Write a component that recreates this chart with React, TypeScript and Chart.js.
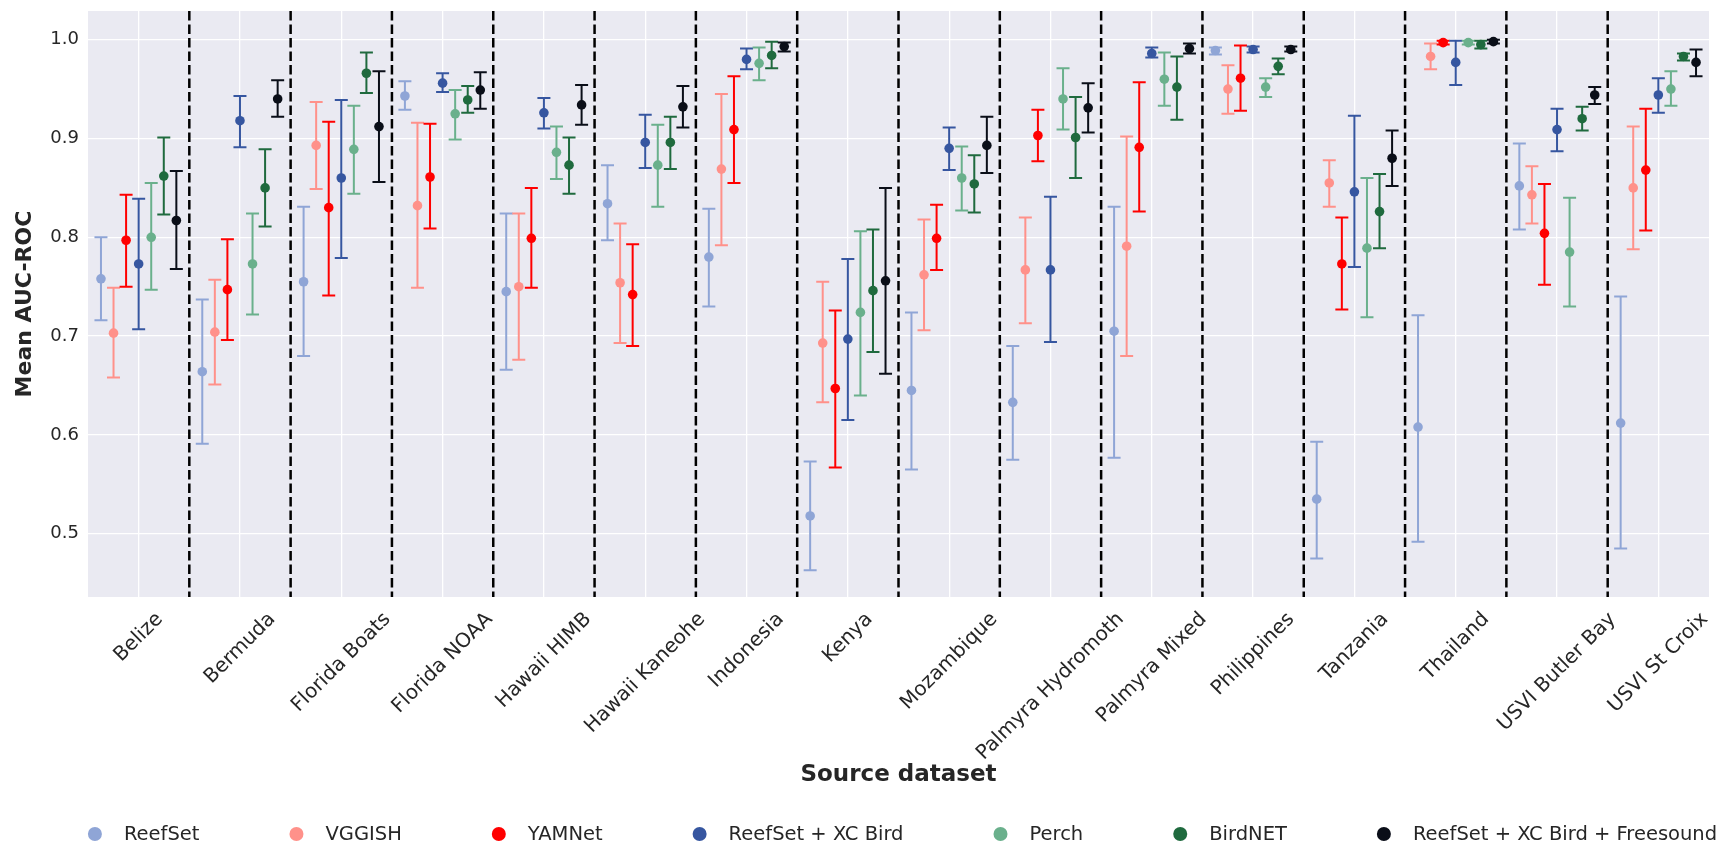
import React, { useEffect, useRef } from "react";
import { Chart, registerables } from "chart.js";

Chart.register(...registerables);

const categories = [
  "Belize", "Bermuda", "Florida Boats", "Florida NOAA", "Hawaii HIMB", "Hawaii Kaneohe",
  "Indonesia", "Kenya", "Mozambique", "Palmyra Hydromoth", "Palmyra Mixed", "Philippines",
  "Tanzania", "Thailand", "USVI Butler Bay", "USVI St Croix",
];

const modelNames = [
  "ReefSet", "VGGISH", "YAMNet", "ReefSet + XC Bird", "Perch", "BirdNET",
  "ReefSet + XC Bird + Freesound",
];

const modelColors = ["#8FA5D6", "#FF918A", "#FF0000", "#3656A0", "#6AB08C", "#1F6A3E", "#0A0E18"];

const yTickValues = [0.5, 0.6, 0.7, 0.8, 0.9, 1.0];

// ReefSet
const reefsetMean = [0.758, 0.664, 0.755, 0.943, 0.745, 0.834, 0.780, 0.518, 0.645, 0.633, 0.705, 0.989, 0.535, 0.608, 0.852, 0.612];
const reefsetLo   = [0.716, 0.591, 0.680, 0.929, 0.666, 0.797, 0.730, 0.463, 0.565, 0.575, 0.577, 0.985, 0.475, 0.492, 0.808, 0.485];
const reefsetHi   = [0.800, 0.737, 0.831, 0.958, 0.824, 0.873, 0.829, 0.573, 0.724, 0.690, 0.831, 0.992, 0.593, 0.721, 0.895, 0.740];

// VGGISH
const vggishMean = [0.703, 0.704, 0.893, 0.832, 0.750, 0.754, 0.869, 0.693, 0.762, 0.767, 0.791, 0.950, 0.855, 0.983, 0.843, 0.850];
const vggishLo   = [0.658, 0.651, 0.849, 0.749, 0.676, 0.693, 0.792, 0.633, 0.706, 0.713, 0.680, 0.925, 0.831, 0.970, 0.814, 0.788];
const vggishHi   = [0.749, 0.757, 0.937, 0.916, 0.824, 0.814, 0.945, 0.755, 0.818, 0.820, 0.902, 0.974, 0.878, 0.996, 0.872, 0.912];

// YAMNet
const yamnetMean = [0.797, 0.747, 0.830, 0.861, 0.799, 0.742, 0.909, 0.647, 0.799, 0.903, 0.891, 0.961, 0.773, 0.997, 0.804, 0.868];
const yamnetLo   = [0.750, 0.696, 0.741, 0.809, 0.749, 0.690, 0.855, 0.567, 0.767, 0.877, 0.826, 0.928, 0.727, 0.995, 0.752, 0.807];
const yamnetHi   = [0.843, 0.798, 0.917, 0.915, 0.850, 0.793, 0.963, 0.726, 0.833, 0.929, 0.957, 0.994, 0.820, 0.999, 0.854, 0.930];

// ReefSet + XC Bird
const xcBirdMean = [0.773, 0.918, 0.860, 0.956, 0.926, 0.896, 0.980, 0.697, 0.890, 0.767, 0.986, 0.990, 0.846, 0.977, 0.909, 0.944];
const xcBirdLo   = [0.707, 0.891, 0.779, 0.947, 0.910, 0.870, 0.970, 0.615, 0.868, 0.694, 0.982, 0.987, 0.770, 0.954, 0.887, 0.926];
const xcBirdHi   = [0.839, 0.943, 0.939, 0.966, 0.941, 0.924, 0.991, 0.778, 0.911, 0.841, 0.992, 0.993, 0.923, 0.999, 0.930, 0.961];

// Perch
const perchMean = [0.800, 0.773, 0.889, 0.925, 0.886, 0.873, 0.976, 0.724, 0.860, 0.940, 0.960, 0.952, 0.789, 0.997, 0.785, 0.950];
const perchLo   = [0.747, 0.722, 0.844, 0.899, 0.859, 0.831, 0.959, 0.640, 0.827, 0.909, 0.933, 0.942, 0.719, 0.995, 0.730, 0.933];
const perchHi   = [0.855, 0.824, 0.933, 0.949, 0.912, 0.914, 0.992, 0.806, 0.892, 0.971, 0.987, 0.961, 0.860, 0.999, 0.840, 0.968];

// BirdNET
const birdnetMean = [0.862, 0.850, 0.966, 0.939, 0.873, 0.896, 0.984, 0.746, 0.854, 0.901, 0.952, 0.973, 0.826, 0.995, 0.920, 0.983];
const birdnetLo   = [0.823, 0.811, 0.946, 0.926, 0.844, 0.869, 0.971, 0.684, 0.825, 0.860, 0.919, 0.965, 0.789, 0.991, 0.908, 0.979];
const birdnetHi   = [0.901, 0.889, 0.987, 0.953, 0.901, 0.922, 0.998, 0.808, 0.883, 0.942, 0.983, 0.981, 0.864, 0.999, 0.932, 0.986];

// ReefSet + XC Bird + Freesound
const freesoundMean = [0.817, 0.940, 0.912, 0.949, 0.934, 0.932, 0.993, 0.756, 0.893, 0.931, 0.991, 0.990, 0.880, 0.998, 0.944, 0.977];
const freesoundLo   = [0.768, 0.922, 0.856, 0.930, 0.914, 0.911, 0.988, 0.662, 0.865, 0.906, 0.986, 0.988, 0.852, 0.996, 0.935, 0.963];
const freesoundHi   = [0.867, 0.959, 0.968, 0.967, 0.954, 0.953, 0.997, 0.850, 0.922, 0.956, 0.996, 0.993, 0.908, 1.000, 0.952, 0.990];

const seriesMeans = [reefsetMean, vggishMean, yamnetMean, xcBirdMean, perchMean, birdnetMean, freesoundMean];
const seriesLo = [reefsetLo, vggishLo, yamnetLo, xcBirdLo, perchLo, birdnetLo, freesoundLo];
const seriesHi = [reefsetHi, vggishHi, yamnetHi, xcBirdHi, perchHi, birdnetHi, freesoundHi];

const FONT = '"DejaVu Sans", "Liberation Sans", sans-serif';
const TEXT_COLOR = "#262626";
const OFFSET_STEP = 0.124;

const backgroundPlugin = {
  id: "plotBackground",
  beforeDraw(chart: any) {
    const { ctx, chartArea } = chart;
    ctx.save();
    ctx.fillStyle = "#EAEAF2";
    ctx.fillRect(chartArea.left, chartArea.top, chartArea.right - chartArea.left, chartArea.bottom - chartArea.top);
    ctx.restore();
  },
};

const separatorPlugin = {
  id: "groupSeparators",
  beforeDatasetsDraw(chart: any) {
    const { ctx, chartArea, scales } = chart;
    ctx.save();
    ctx.strokeStyle = "#000000";
    ctx.lineWidth = 2.5;
    ctx.setLineDash([9.5, 4]);
    for (let i = 0; i < categories.length - 1; i++) {
      const x = scales.x.getPixelForValue(i + 0.5);
      ctx.beginPath();
      ctx.moveTo(x, chartArea.top);
      ctx.lineTo(x, chartArea.bottom);
      ctx.stroke();
    }
    ctx.restore();
  },
};

const errorBarPlugin = {
  id: "errorBars",
  beforeDatasetDraw(chart: any, args: any) {
    const { ctx, chartArea, scales } = chart;
    const ds = chart.data.datasets[args.index];
    const meta = args.meta;
    const cap = 6.5;
    ctx.save();
    ctx.beginPath();
    ctx.rect(chartArea.left, chartArea.top, chartArea.right - chartArea.left, chartArea.bottom - chartArea.top);
    ctx.clip();
    ctx.strokeStyle = ds.pointBackgroundColor;
    ctx.lineWidth = 2;
    meta.data.forEach((pt: any, i: number) => {
      const d = ds.data[i];
      const x = pt.x;
      const yl = scales.y.getPixelForValue(d.lo);
      const yh = scales.y.getPixelForValue(d.hi);
      ctx.beginPath();
      ctx.moveTo(x, yl);
      ctx.lineTo(x, yh);
      ctx.moveTo(x - cap, yl);
      ctx.lineTo(x + cap, yl);
      ctx.moveTo(x - cap, yh);
      ctx.lineTo(x + cap, yh);
      ctx.stroke();
    });
    ctx.restore();
  },
};

const xLabelPlugin = {
  id: "xRotatedLabels",
  afterDraw(chart: any) {
    const { ctx, chartArea, scales } = chart;
    const size = 20;
    const h = size * 1.16;
    const pad = 11;
    ctx.save();
    ctx.font = `${size}px ${FONT}`;
    ctx.fillStyle = TEXT_COLOR;
    ctx.textAlign = "center";
    ctx.textBaseline = "middle";
    categories.forEach((label, i) => {
      const w = ctx.measureText(label).width;
      const cx = scales.x.getPixelForValue(i);
      const cy = chartArea.bottom + pad + ((w + h) * Math.SQRT1_2) / 2;
      ctx.save();
      ctx.translate(cx, cy);
      ctx.rotate(-Math.PI / 4);
      ctx.fillText(label, 0, 0);
      ctx.restore();
    });
    ctx.restore();
  },
};

const legendPlugin = {
  id: "bottomLegend",
  afterDraw(chart: any) {
    const { ctx, chartArea } = chart;
    const size = 19.5;
    const r = 7;
    const markerToText = 29;
    const textToNext = 97;
    ctx.save();
    ctx.font = `${size}px ${FONT}`;
    const widths = modelNames.map((n) => ctx.measureText(n).width);
    let total = r;
    widths.forEach((w, i) => {
      total += markerToText + w;
      if (i < widths.length - 1) total += textToNext;
    });
    const center = (chartArea.left + chartArea.right) / 2 + 4;
    let x = center - total / 2 + r;
    const y = 834;
    ctx.textAlign = "left";
    ctx.textBaseline = "middle";
    modelNames.forEach((name, i) => {
      ctx.beginPath();
      ctx.fillStyle = modelColors[i];
      ctx.arc(x, y, r, 0, Math.PI * 2);
      ctx.fill();
      ctx.fillStyle = TEXT_COLOR;
      ctx.fillText(name, x + markerToText, y + 1);
      x += markerToText + widths[i] + textToNext;
    });
    ctx.restore();
  },
};

export default function App() {
  const canvasRef = useRef<HTMLCanvasElement | null>(null);

  useEffect(() => {
    document.body.style.margin = "0";
    const canvas = canvasRef.current;
    if (!canvas) return;

    const datasets = modelNames.map((name, m) => ({
      label: name,
      data: categories.map((_, i) => ({
        x: i + (m - 3) * OFFSET_STEP,
        y: seriesMeans[m][i],
        lo: seriesLo[m][i],
        hi: seriesHi[m][i],
      })),
      pointBackgroundColor: modelColors[m],
      backgroundColor: modelColors[m],
      borderColor: modelColors[m],
      pointBorderWidth: 0,
      pointRadius: 4.8,
      showLine: false,
      order: modelNames.length - 1 - m,
    }));

    const chart = new Chart(canvas, {
      type: "scatter",
      data: { datasets } as any,
      options: {
        animation: false,
        responsive: true,
        maintainAspectRatio: false,
        events: [],
        layout: { padding: { top: 11, right: 11, bottom: 0, left: 0 } },
        plugins: {
          legend: { display: false },
          tooltip: { enabled: false },
        },
        scales: {
          x: {
            type: "linear",
            min: -0.5,
            max: categories.length - 0.5,
            afterBuildTicks: (s: any) => {
              s.ticks = categories.map((_, i) => ({ value: i }));
            },
            afterFit: (s: any) => {
              s.height = 250;
              s.paddingLeft = 0;
              s.paddingRight = 0;
              s.paddingTop = 0;
              s.paddingBottom = 0;
            },
            grid: { color: "#FFFFFF", lineWidth: 1.3, drawTicks: false },
            border: { display: false },
            ticks: { display: false },
            title: {
              display: true,
              text: "Source dataset",
              color: TEXT_COLOR,
              font: { family: FONT, size: 23, weight: "bold" },
              padding: { top: 0, bottom: 58 },
            },
          },
          y: {
            type: "linear",
            min: 0.436,
            max: 1.029,
            afterBuildTicks: (s: any) => {
              s.ticks = yTickValues.map((v) => ({ value: v }));
            },
            afterFit: (s: any) => {
              s.width = 88;
              s.paddingTop = 0;
              s.paddingBottom = 0;
              s.paddingLeft = 0;
              s.paddingRight = 0;
            },
            grid: { color: "#FFFFFF", lineWidth: 1.3, drawTicks: false },
            border: { display: false },
            ticks: {
              padding: 9,
              color: TEXT_COLOR,
              font: { family: FONT, size: 18 },
              callback: (v: any) => Number(v).toFixed(1),
            },
            title: {
              display: true,
              text: "Mean AUC-ROC",
              color: TEXT_COLOR,
              font: { family: FONT, size: 22, weight: "bold" },
              padding: { top: 12, bottom: 0 },
            },
          },
        },
      } as any,
      plugins: [backgroundPlugin, separatorPlugin, errorBarPlugin, xLabelPlugin, legendPlugin],
    });

    return () => {
      chart.destroy();
    };
  }, []);

  return (
    <div style={{ width: 1720, height: 847, position: "relative", background: "#FFFFFF", overflow: "hidden" }}>
      <canvas ref={canvasRef} />
    </div>
  );
}
